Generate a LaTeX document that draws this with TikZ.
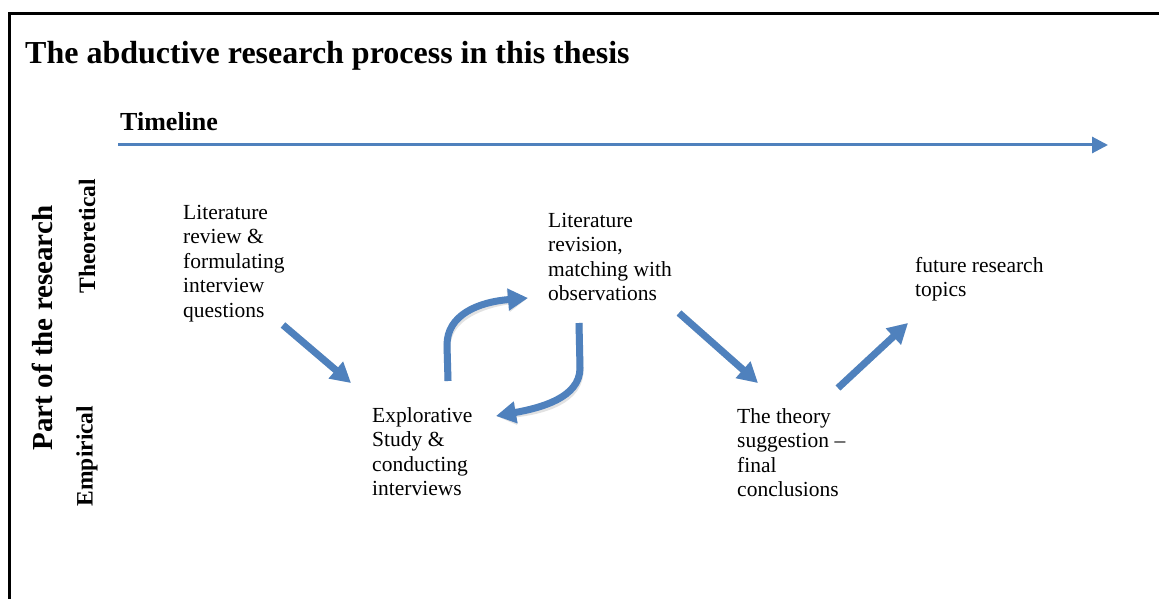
\documentclass[tikz,border=0pt]{standalone}
\usepackage{fontspec}
\setmainfont{Liberation Serif}
\usetikzlibrary{arrows.meta}
\definecolor{arrblue}{HTML}{4F81BD}
\tikzset{
  body/.style={anchor=base west, inner sep=0pt, align=left, font=\fontsize{21.5}{24.6}\selectfont},
  bigarrow/.style={draw=arrblue, line width=7pt, -{Triangle[length=20pt,width=21pt]}},
  shadowarrow/.style={draw=black!25, opacity=0.45, line width=7pt, -{Triangle[length=20pt,width=21pt]}},
  frameline/.style={line width=3pt, black},
}
\begin{document}
\begin{tikzpicture}[x=1pt,y=-1pt]
\useasboundingbox (0,0) rectangle (1159,599);
% frame
\coordinate (fl) at (9.5,599);
\coordinate (fc) at (9.5,13.5);
\coordinate (fr) at (1159,13.5);
\draw[frameline] (fl) -- (fc) -- (fr);
% title
\node[anchor=base west, inner sep=0pt, font=\fontsize{32}{36}\selectfont\bfseries] (title) at (25,64) {The abductive research process in this thesis};
\node[anchor=base west, inner sep=0pt, font=\fontsize{26}{30}\selectfont\bfseries] (timeline) at (120,131) {Timeline};
% timeline arrow
\coordinate (t0) at (118,145);
\coordinate (t1) at (1108,145);
\draw[arrblue, line width=3pt, -{Triangle[length=16pt,width=16pt]}] (t0) -- (t1);
% axis labels
\node[rotate=90, inner sep=0pt, font=\fontsize{29}{32}\selectfont\bfseries] (part) at (42,328) {Part of the research};
\node[rotate=90, inner sep=0pt, font=\fontsize{23.5}{26}\selectfont\bfseries] (theo) at (87,236) {Theoretical};
\node[rotate=90, inner sep=0pt, font=\fontsize{23.5}{26}\selectfont\bfseries] (emp) at (87,456) {Empirical};
% text blocks (base anchor = baseline of last line)
\node[body] (lit) at (183,317.4) {Literature\\review \&\\formulating\\interview\\questions};
\node[body] (rev) at (548,300.8) {Literature\\revision,\\matching with\\observations};
\node[body] (fut) at (915,296.6) {future research\\topics};
\node[body] (expl) at (372,495.8) {Explorative\\Study \&\\conducting\\interviews};
\node[body] (theory) at (737,496.8) {The theory\\suggestion --\\final\\conclusions};
% arrow coordinates
\coordinate (a1s) at (283,325); \coordinate (a1e) at (351,383);
\coordinate (a2s) at (448,381); \coordinate (a2m) at (447,345); \coordinate (a2e) at (528,298);
\coordinate (a3s) at (579,323); \coordinate (a3m) at (580,368); \coordinate (a3e) at (496,416);
\coordinate (a4s) at (679,313); \coordinate (a4e) at (758,383);
\coordinate (a5s) at (838,388); \coordinate (a5e) at (908,323);
% shadows
\begin{scope}[shift={(2,3)}]
\draw[shadowarrow] (a1s) -- (a1e);
\draw[shadowarrow] (a2s) -- (a2m) .. controls (447,315) and (478,302) .. (a2e);
\draw[shadowarrow] (a3s) -- (a3m) .. controls (580,398) and (540,408) .. (a3e);
\draw[shadowarrow] (a4s) -- (a4e);
\draw[shadowarrow] (a5s) -- (a5e);
\end{scope}
% arrows
\draw[bigarrow] (a1s) -- (a1e);
\draw[bigarrow] (a2s) -- (a2m) .. controls (447,315) and (478,302) .. (a2e);
\draw[bigarrow] (a3s) -- (a3m) .. controls (580,398) and (540,408) .. (a3e);
\draw[bigarrow] (a4s) -- (a4e);
\draw[bigarrow] (a5s) -- (a5e);
\end{tikzpicture}
\end{document}
